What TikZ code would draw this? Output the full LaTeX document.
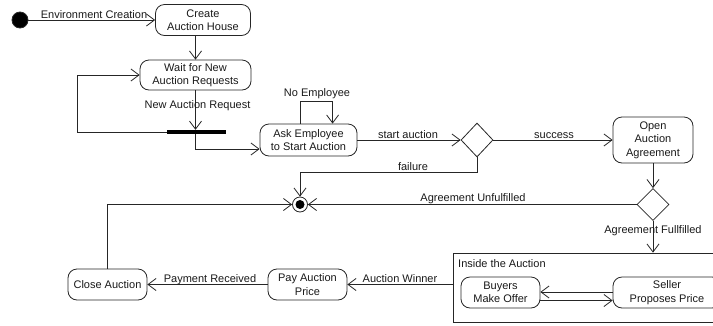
\documentclass[tikz,border=0pt]{standalone}
\usepackage{fontspec}
\setmainfont{Liberation Sans}
\usetikzlibrary{arrows.meta,shapes.geometric,calc}
\begin{document}
\begin{tikzpicture}[x=1pt,y=-1pt,
  every node/.style={font=\fontsize{11}{13.5}\selectfont, text=black!90},
  ln/.style={draw=black!85, line width=0.8pt},
  arr/.style={ln, -{Straight Barb[length=8pt,width=12pt,line width=0.8pt]}},
  state/.style={ln, rectangle, rounded corners=9pt, align=center, inner sep=0pt},
  dec/.style={ln, diamond, minimum width=32pt, minimum height=34pt, inner sep=0pt},
  lbl/.style={anchor=base, inner sep=0pt},
]
\clip (0,0) rectangle (713,325);
% nodes
\node[ln, circle, fill=black, minimum size=16pt, inner sep=0pt] (init) at (20,20) {};
\node[state, minimum width=95pt, minimum height=31pt] (create) at (203,20) {Create\\Auction House};
\node[state, minimum width=111pt, minimum height=30pt] (wait) at (195.5,75) {Wait for New\\Auction Requests};
\node[fill=black, inner sep=0pt, minimum width=59pt, minimum height=4pt] (bar) at (196.5,132) {};
\node[state, minimum width=97pt, minimum height=32pt] (ask) at (308.5,140) {Ask Employee\\to Start Auction};
\node[dec] (d1) at (477,140) {};
\node[state, minimum width=80pt, minimum height=46pt] (open) at (653,140) {Open\\Auction\\Agreement};
\node[dec, minimum height=32pt] (d2) at (653,204.5) {};
\node[ln, circle, minimum size=15pt, inner sep=0pt] (final) at (300,204.5) {};
\fill[black] (final.center) circle (4.5pt);
\node[ln, rectangle, minimum width=277pt, minimum height=69pt, inner sep=0pt] (frame) at (591.5,287.5) {};
\node[anchor=base west, inner sep=0pt] (framelbl) at (458,267) {Inside the Auction};
\node[state, minimum width=79pt, minimum height=31pt] (buyers) at (500.5,292.5) {Buyers\\Make Offer};
\node[state, minimum width=108pt, minimum height=31pt] (seller) at (667,292.5) {Seller\\Proposes Price};
\node[state, minimum width=79pt, minimum height=31pt] (pay) at (307.5,284.5) {Pay Auction\\Price};
\node[state, minimum width=79pt, minimum height=31pt] (close) at (107.5,284.5) {Close Auction};
% edges
\draw[arr] (init) -- (create);
\node[lbl] (l1) at (94,18) {Environment Creation};
\draw[arr] (create.south -| wait.north) -- (wait.north);
\draw[arr] (wait.south) -- (wait.south |- bar.north);
\node[lbl] (l2) at (197.5,108) {New Auction Request};
\coordinate (lp) at (77,132);
\draw[arr] (bar.west) -- (lp) |- (wait.west);
\draw[arr] (wait.south |- bar.south) |- ($(ask.west)+(0,9)$);
\draw[arr] ($(ask.north west)+(41,0)$) -- ++(0,-22) -| ($(ask.north west)+(73,0)$);
\node[lbl] (l3) at (317,96) {No Employee};
\draw[arr] (ask) -- (d1);
\node[lbl] (l4) at (408,138) {start auction};
\draw[arr] (d1) -- (open);
\node[lbl] (l5) at (554,138) {success};
\draw[arr] (d1.south) -- ++(0,15) -| (final.north);
\node[lbl] (l6) at (413,170) {failure};
\draw[arr] (open) -- (d2);
\draw[arr] (d2) -- (final);
\node[lbl] (l7) at (473,201) {Agreement Unfulfilled};
\draw[arr] (d2.south) -- (d2.south |- frame.north);
\node[lbl] (l8) at (653,233) {Agreement Fullfilled};
\draw[arr] (pay.east -| frame.west) -- (pay.east);
\node[lbl] (l9) at (400,282) {Auction Winner};
\draw[arr] (pay) -- (close);
\node[lbl] (l10) at (210,282) {Payment Received};
\draw[arr] (close.north) |- (final.west);
\draw[arr] ($(seller.west)+(0,-0.5)$) -- ($(buyers.east)+(0,-0.5)$);
\draw[arr] ($(buyers.east)+(0,8)$) -- ($(seller.west)+(0,8)$);
\end{tikzpicture}
\end{document}
